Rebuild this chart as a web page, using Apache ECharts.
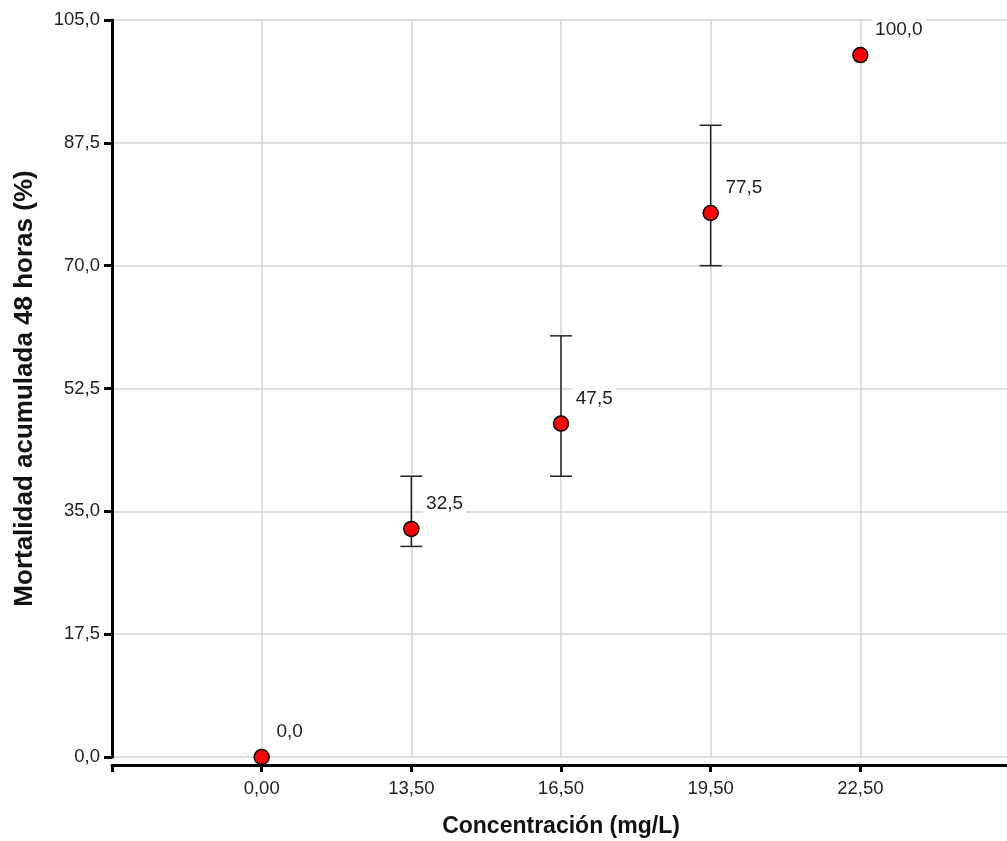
<!DOCTYPE html>
<html>
<head>
<meta charset="utf-8">
<script src="https://cdn.jsdelivr.net/npm/echarts@6/dist/echarts.min.js"></script>
<style>
  html, body { margin: 0; padding: 0; background: #fff; }
  #chart { width: 1007px; height: 841px; }
</style>
</head>
<body>
<div id="chart"></div>
<script>
// concentraciones (eje x) y mortalidad media con sus barras de error
const concentraciones = ["0,00", "13,50", "16,50", "19,50", "22,50"];
const mortalidad = [0, 32.5, 47.5, 77.5, 100];
const errorBajo = [null, 30, 40, 70, null];
const errorAlto = [null, 40, 60, 90, null];
const yTicks = [0, 17.5, 35, 52.5, 70, 87.5, 105];

const coma = (v, d) => v.toFixed(d).replace(".", ",");

var chartDom = document.getElementById("chart");
var myChart = echarts.init(chartDom);

const puntos = concentraciones.map((c, i) => [c, mortalidad[i]]);
const barras = [];
concentraciones.forEach((c, i) => {
  if (errorBajo[i] !== null) barras.push([c, errorBajo[i], errorAlto[i]]);
});

var option = {
  animation: false,
  textStyle: { fontFamily: "Liberation Sans" },
  grid: { left: 112, right: -3, top: 20, bottom: 84, outerBoundsMode: "none", containLabel: false },
  xAxis: {
    type: "category",
    boundaryGap: false,
    data: [""].concat(concentraciones, [""]),
    offset: 8,
    name: "Concentración (mg/L)",
    nameLocation: "middle",
    nameGap: 50,
    nameTextStyle: { fontSize: 23, fontWeight: "bold", color: "#111" },
    axisLine: { onZero: false, lineStyle: { color: "#000", width: 3 } },
    axisTick: { length: 7, lineStyle: { color: "#000", width: 3 }, alignWithLabel: true },
    axisLabel: { fontSize: 18.5, color: "#222", margin: 14, interval: 0 },
    splitLine: { show: true, lineStyle: { color: "#d4d4d4", width: 1.5 } },
  },
  yAxis: {
    type: "value",
    min: yTicks[0],
    max: yTicks[yTicks.length - 1],
    interval: 17.5,
    name: "Mortalidad acumulada 48 horas (%)",
    nameLocation: "middle",
    nameGap: 74,
    nameTextStyle: { fontSize: 26, fontWeight: "bold", color: "#111" },
    axisLine: { show: true, onZero: false, lineStyle: { color: "#000", width: 3 } },
    axisTick: { show: true, length: 8, lineStyle: { color: "#000", width: 3 } },
    axisLabel: { fontSize: 18.5, color: "#222", margin: 12, formatter: (v) => coma(v, 1) },
    splitLine: { show: true, lineStyle: { color: "#d4d4d4", width: 1.5 } },
  },
  series: [
    {
      type: "custom",
      z: 2,
      data: barras,
      renderItem: function (params, api) {
        const x = api.value(0);
        const lo = api.coord([x, api.value(1)]);
        const hi = api.coord([x, api.value(2)]);
        const w = 11;
        const st = { stroke: "#222", lineWidth: 1.5 };
        return {
          type: "group",
          children: [
            { type: "line", shape: { x1: lo[0], y1: lo[1], x2: hi[0], y2: hi[1] }, style: st },
            { type: "line", shape: { x1: lo[0] - w, y1: lo[1], x2: lo[0] + w, y2: lo[1] }, style: st },
            { type: "line", shape: { x1: hi[0] - w, y1: hi[1], x2: hi[0] + w, y2: hi[1] }, style: st },
          ],
        };
      },
    },
    {
      type: "scatter",
      z: 5,
      data: puntos,
      symbol: "circle",
      symbolSize: 15,
      itemStyle: { color: "#ff0000", borderColor: "#000", borderWidth: 1.5, opacity: 1 },
      label: {
        show: true,
        position: [20, -17],
        align: "left",
        verticalAlign: "middle",
        fontSize: 19,
        color: "#222",
        backgroundColor: "#fff",
        padding: [1, 3],
        formatter: (p) => coma(p.value[1], 1),
      },
    },
  ],
};

myChart.setOption(option);
</script>
</body>
</html>
